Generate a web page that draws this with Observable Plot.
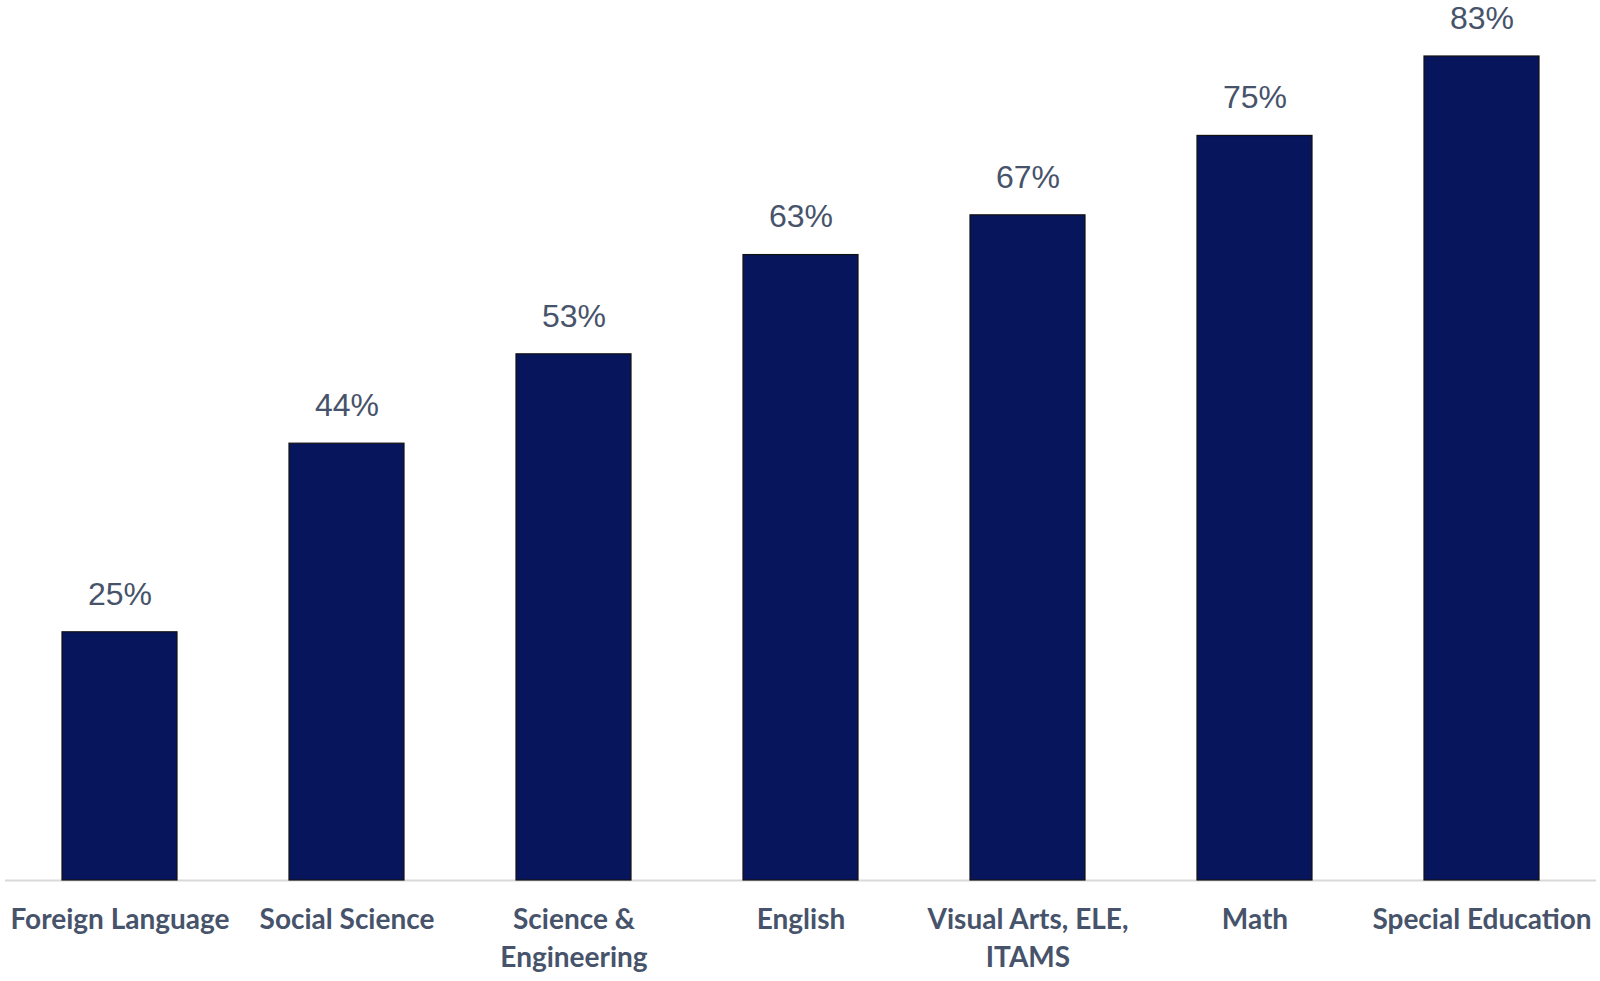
<!DOCTYPE html>
<html>
<head>
<meta charset="utf-8">
<script src="https://cdn.jsdelivr.net/npm/d3@7"></script>
<script src="https://cdn.jsdelivr.net/npm/@observablehq/plot@0.6"></script>
<style>
  html, body { margin: 0; padding: 0; background: #fff; }
  #chart { width: 1600px; height: 981px; }
</style>
</head>
<body>
<div id="chart"></div>
<script>
const categories = ["Foreign Language", "Social Science", "Science &\nEngineering", "English", "Visual Arts, ELE,\nITAMS", "Math", "Special Education"];
const values = [25, 44, 53, 63, 67, 75, 83];
const valueLabels = ["25%", "44%", "53%", "63%", "67%", "75%", "83%"];

const data = categories.map((c, i) => ({category: c, value: values[i], label: valueLabels[i]}));

const chart = Plot.plot({
  width: 1600,
  height: 981,
  marginTop: 56,
  marginBottom: 101,
  marginLeft: 5,
  marginRight: 4,
  style: {background: "#fff"},
  x: {domain: categories, paddingInner: 0.494, paddingOuter: 0.247, label: null},
  y: {domain: [0, 83], axis: null},
  marks: [
    Plot.ruleY([0], {stroke: "#d9d9d9", strokeWidth: 2}),
    Plot.barY(data, {x: "category", y: "value", fill: "#06155C", stroke: "#111", strokeWidth: 1.2}),
    Plot.text(data, {x: "category", y: "value", text: "label", dy: -38, fontSize: 32, fill: "#46536A", fontFamily: "Liberation Sans, Arial, sans-serif"}),
    Plot.axisX({tickSize: 0, tickPadding: 21, fontSize: 28, fontWeight: "bold", fill: "#46536A", fontFamily: "Lato, 'Open Sans', sans-serif", lineHeight: 1.36, textAnchor: "middle", label: null, lineAnchor: "top"})
  ]
});
document.getElementById("chart").appendChild(chart);
</script>
</body>
</html>
